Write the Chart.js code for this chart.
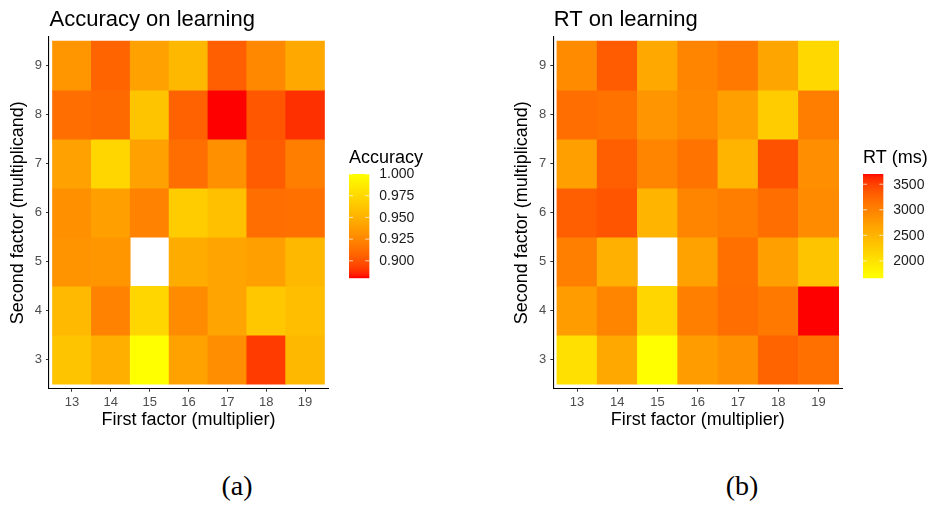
<!DOCTYPE html>
<html>
<head>
<meta charset="utf-8">
<script src="https://cdn.jsdelivr.net/npm/chart.js@4.4.1/dist/chart.umd.min.js"></script>
<style>
  html, body { margin: 0; padding: 0; background: #fff; }
  #wrap { position: relative; width: 930px; height: 506px; overflow: hidden; background: #fff; }
  .panel { position: absolute; top: 0; width: 465px; height: 440px; }
  .cap { position: absolute; top: 470px; font-family: "Liberation Serif", serif; font-size: 28px;
         color: #000; transform: translateX(-50%); white-space: nowrap; }
</style>
</head>
<body>
<div id="wrap">
  <div class="panel" style="left:0"><canvas id="acc" width="465" height="440"></canvas></div>
  <div class="panel" style="left:465px"><canvas id="rt" width="465" height="440"></canvas></div>
  <div class="cap" style="left:237px">(a)</div>
  <div class="cap" style="left:742px">(b)</div>
</div>
<script>
// Factor levels
const multipliers = [13, 14, 15, 16, 17, 18, 19];   // first factor (x)
const multiplicands = [3, 4, 5, 6, 7, 8, 9];        // second factor (y)

// Mean accuracy, one row per multiplicand (3..9), columns = multipliers 13..19
const accuracy = [
  [0.962, 0.949, 1.000, 0.941, 0.929, 0.891, 0.954],
  [0.955, 0.923, 0.973, 0.928, 0.942, 0.964, 0.958],
  [0.932, 0.934, null,  0.947, 0.942, 0.939, 0.954],
  [0.930, 0.939, 0.923, 0.967, 0.959, 0.912, 0.913],
  [0.940, 0.973, 0.940, 0.912, 0.930, 0.903, 0.920],
  [0.912, 0.910, 0.962, 0.906, 0.881, 0.901, 0.888],
  [0.934, 0.907, 0.940, 0.954, 0.905, 0.926, 0.945]
];

// Mean response time (ms), same layout
const rtMs = [
  [2019, 2619, 1680, 2741, 2862, 3254, 3159],
  [2741, 2979, 2130, 3015, 3177, 3086, 3700],
  [3015, 2538, null, 2680, 3159, 2700, 2328],
  [3294, 3377, 2498, 2979, 3033, 3177, 2902],
  [2720, 3294, 2979, 3122, 2498, 3387, 2882],
  [3177, 3140, 2811, 2943, 2720, 2240, 3033],
  [2902, 3324, 2619, 2979, 3086, 2650, 2108]
];

const accuracyTicks = [0.900, 0.925, 0.950, 0.975, 1.000];
const rtTicks = [2000, 2500, 3000, 3500];

// ---- colour ramp interpolated in CIELAB ----
function srgbToLin(c) { c /= 255; return c <= 0.04045 ? c / 12.92 : Math.pow((c + 0.055) / 1.055, 2.4); }
function linToSrgb(c) { c = Math.max(0, Math.min(1, c)); return 255 * (c <= 0.0031308 ? 12.92 * c : 1.055 * Math.pow(c, 1 / 2.4) - 0.055); }
const WX = 0.95047, WY = 1.0, WZ = 1.08883;
function f(t) { return t > 216 / 24389 ? Math.cbrt(t) : (24389 / 27 * t + 16) / 116; }
function finv(t) { return t * t * t > 216 / 24389 ? t * t * t : (116 * t - 16) / (24389 / 27); }
function rgbToLab([r, g, b]) {
  r = srgbToLin(r); g = srgbToLin(g); b = srgbToLin(b);
  const x = (0.4124 * r + 0.3576 * g + 0.1805 * b) / WX;
  const y = (0.2126 * r + 0.7152 * g + 0.0722 * b) / WY;
  const z = (0.0193 * r + 0.1192 * g + 0.9505 * b) / WZ;
  const fx = f(x), fy = f(y), fz = f(z);
  return [116 * fy - 16, 500 * (fx - fy), 200 * (fy - fz)];
}
function labToRgb([L, a, bb]) {
  const fy = (L + 16) / 116, fx = fy + a / 500, fz = fy - bb / 200;
  const x = finv(fx) * WX, y = finv(fy) * WY, z = finv(fz) * WZ;
  const r = 3.2406 * x - 1.5372 * y - 0.4986 * z;
  const g = -0.9689 * x + 1.8758 * y + 0.0415 * z;
  const b = 0.0557 * x - 0.2040 * y + 1.0570 * z;
  return `rgb(${Math.round(linToSrgb(r))},${Math.round(linToSrgb(g))},${Math.round(linToSrgb(b))})`;
}
function makeRamp(lowRgb, highRgb, min, max) {
  const lo = rgbToLab(lowRgb), hi = rgbToLab(highRgb);
  return v => {
    const t = Math.max(0, Math.min(1, (v - min) / (max - min)));
    return labToRgb([0, 1, 2].map(i => lo[i] + (hi[i] - lo[i]) * t));
  };
}
const RED = [255, 0, 0], YELLOW = [255, 255, 0];

function range(grid) {
  const vals = grid.flat().filter(v => v !== null);
  return [Math.min(...vals), Math.max(...vals)];
}

function cells(grid) {
  const out = [];
  grid.forEach((row, i) => row.forEach((v, j) => {
    if (v === null) return;
    const m = multiplicands[i];
    out.push({ x: multipliers[j], y: [m - 0.5, m + 0.5], v });
  }));
  return out;
}

const FONT = '"Liberation Sans", Arial, sans-serif';

// Plot title and colour-bar guide
const decorPlugin = {
  id: 'decor',
  afterDraw(chart, args, o) {
    const { ctx, chartArea } = chart;
    ctx.save();
    ctx.fillStyle = '#000';
    ctx.font = `22px ${FONT}`;
    ctx.textAlign = 'left';
    ctx.textBaseline = 'alphabetic';
    ctx.fillText(o.title, chartArea.left + 0.5, 26);

    // guide
    const { x, top, w, h, min, max, ramp, ticks, fmt } = o.bar;
    ctx.font = `18px ${FONT}`;
    ctx.fillText(o.guideTitle, x, 163);
    for (let py = 0; py < h; py++) {
      const v = max - (py + 0.5) / h * (max - min);
      ctx.fillStyle = ramp(v);
      ctx.fillRect(x, top + py, w, 1.2);
    }
    ctx.font = `14px ${FONT}`;
    ctx.textBaseline = 'middle';
    ctx.strokeStyle = 'rgba(255,255,255,0.7)';
    ctx.lineWidth = 1;
    ticks.forEach(v => {
      const y = top + (max - v) / (max - min) * h;
      ctx.beginPath();
      ctx.moveTo(x, y); ctx.lineTo(x + 4, y);
      ctx.moveTo(x + w - 4, y); ctx.lineTo(x + w, y);
      ctx.stroke();
      ctx.fillStyle = '#1a1a1a';
      ctx.fillText(fmt(v), x + w + 10, y + 0.5);
    });
    ctx.restore();
  }
};

function heatmap(canvasId, grid, ramp, padLeft, padRight, title, guide) {
  new Chart(document.getElementById(canvasId), {
    type: 'bar',
    data: {
      datasets: [{
        data: cells(grid),
        backgroundColor: c => ramp(c.raw.v),
        borderWidth: 0,
        barPercentage: 1,
        categoryPercentage: 1
      }]
    },
    options: {
      responsive: false,
      animation: false,
      events: [],
      layout: { padding: { top: 36.7, left: padLeft, right: padRight, bottom: 0 } },
      plugins: {
        legend: { display: false },
        tooltip: { enabled: false },
        decor: Object.assign({ title }, guide)
      },
      scales: {
        x: {
          type: 'linear', min: 12.41, max: 19.59, offset: false,
          afterBuildTicks: s => { s.ticks = multipliers.map(v => ({ value: v })); },
          afterFit: s => { s.height = 51.3; },
          ticks: { color: '#4D4D4D', font: { family: FONT, size: 13 }, padding: 3,
                   autoSkip: false, maxRotation: 0, callback: v => String(v) },
          grid: { drawOnChartArea: false, offset: false, drawTicks: true, tickLength: 3,
                  tickColor: '#333', tickWidth: 1 },
          border: { display: true, color: '#000', width: 1.1 },
          title: { display: true, text: 'First factor (multiplier)', color: '#000',
                   font: { family: FONT, size: 18 }, padding: { top: 0, bottom: 9.2 } }
        },
        y: {
          type: 'linear', min: 2.41, max: 9.59,
          afterBuildTicks: s => { s.ticks = multiplicands.map(v => ({ value: v })); },
          afterFit: s => { s.width = 49; },
          ticks: { color: '#4D4D4D', font: { family: FONT, size: 13 }, padding: 4,
                   autoSkip: false, callback: v => String(v) },
          grid: { drawOnChartArea: false, drawTicks: true, tickLength: 3,
                  tickColor: '#333', tickWidth: 1 },
          border: { display: true, color: '#000', width: 1.1 },
          title: { display: true, text: 'Second factor (multiplicand)', color: '#000',
                   font: { family: FONT, size: 18 }, padding: { top: 7.2, bottom: 0 } }
        }
      }
    },
    plugins: [decorPlugin]
  });
}

const [accMin, accMax] = range(accuracy);
const accRamp = makeRamp(RED, YELLOW, accMin, accMax);
heatmap('acc', accuracy, accRamp, 0, 137, 'Accuracy on learning', {
  guideTitle: 'Accuracy',
  bar: { x: 349, top: 174, w: 20.3, h: 103.3, min: accMin, max: accMax, ramp: accRamp,
         ticks: accuracyTicks, fmt: v => v.toFixed(3) }
});

const [rtMin, rtMax] = range(rtMs);
const rtRamp = makeRamp(YELLOW, RED, rtMin, rtMax);
heatmap('rt', rtMs, rtRamp, 39.3, 87.7, 'RT on learning', {
  guideTitle: 'RT (ms)',
  bar: { x: 398, top: 174, w: 20.3, h: 103.3, min: rtMin, max: rtMax, ramp: rtRamp,
         ticks: rtTicks, fmt: v => String(v) }
});
</script>
</body>
</html>
